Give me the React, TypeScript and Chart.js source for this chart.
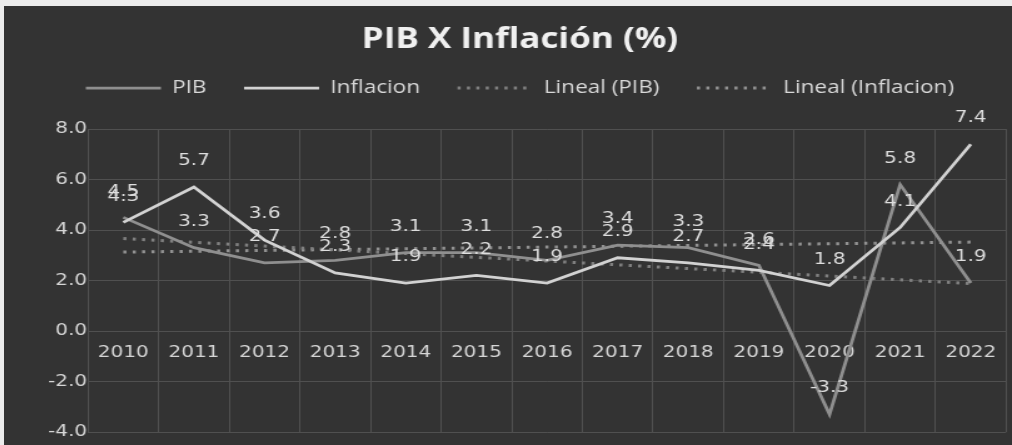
import React, { useEffect, useRef } from 'react';
import { Chart, registerables } from 'chart.js';

Chart.register(...registerables);

// ---- data ----
const years = ['2010', '2011', '2012', '2013', '2014', '2015', '2016', '2017', '2018', '2019', '2020', '2021', '2022'];
const pibValues = [4.5, 3.3, 2.7, 2.8, 3.1, 3.1, 2.8, 3.4, 3.3, 2.6, -3.3, 5.8, 1.9];
const inflacionValues = [4.3, 5.7, 3.6, 2.3, 1.9, 2.2, 1.9, 2.9, 2.7, 2.4, 1.8, 4.1, 7.4];
const seriesNames = ['PIB', 'Inflacion', 'Lineal (PIB)', 'Lineal (Inflacion)'];
const chartTitle = 'PIB X Inflación (%)';
const yMin = -4;
const yMax = 8;
const yStep = 2;

// least-squares linear trend of a series (Excel "Lineal" trendline)
function linearTrend(values: number[]): number[] {
  const n = values.length;
  const mx = (n - 1) / 2;
  const my = values.reduce((a, b) => a + b, 0) / n;
  let sxy = 0;
  let sxx = 0;
  values.forEach((v, i) => {
    sxy += (i - mx) * (v - my);
    sxx += (i - mx) * (i - mx);
  });
  const slope = sxy / sxx;
  return values.map((_, i) => my + slope * (i - mx));
}

// ---- layout (logical canvas is stretched horizontally like the reference) ----
const STRETCH = 1.25;
const LOGICAL_W = 806;
const LOGICAL_H = 439;

const dataLabelPlugin = {
  id: 'dataLabels',
  afterDatasetsDraw(chart: any) {
    const ctx = chart.ctx;
    ctx.save();
    ctx.font = '16px "DejaVu Sans"';
    ctx.fillStyle = '#dedede';
    ctx.textAlign = 'center';
    ctx.textBaseline = 'middle';
    [1, 0].forEach((di) => {
      const meta = chart.getDatasetMeta(di);
      const ds = chart.data.datasets[di];
      meta.data.forEach((pt: any, i: number) => {
        const v = ds.data[i] as number;
        ctx.fillText(v.toFixed(1), pt.x, pt.y - 26);
      });
    });
    ctx.restore();
  },
};

export default function App() {
  const canvasRef = useRef<HTMLCanvasElement | null>(null);

  useEffect(() => {
    if (!canvasRef.current) return;
    const tickFont = { family: 'DejaVu Sans', size: 16 };
    const chart = new Chart(canvasRef.current, {
      type: 'line',
      data: {
        labels: years,
        datasets: [
          {
            label: seriesNames[0],
            data: pibValues,
            borderColor: '#8f8f8f',
            backgroundColor: '#8f8f8f',
            borderWidth: 2.75,
            pointRadius: 0,
            tension: 0,
            order: 1,
          },
          {
            label: seriesNames[1],
            data: inflacionValues,
            borderColor: '#d2d2d2',
            backgroundColor: '#d2d2d2',
            borderWidth: 2.75,
            pointRadius: 0,
            tension: 0,
            order: 0,
          },
          {
            label: seriesNames[2],
            data: linearTrend(pibValues),
            borderColor: '#808080',
            backgroundColor: '#808080',
            borderWidth: 3,
            borderDash: [2.5, 5],
            pointRadius: 0,
            tension: 0,
            order: 2,
          },
          {
            label: seriesNames[3],
            data: linearTrend(inflacionValues),
            borderColor: '#929292',
            backgroundColor: '#929292',
            borderWidth: 3,
            borderDash: [2.5, 5],
            pointRadius: 0,
            tension: 0,
            order: 3,
          },
        ],
      },
      options: {
        responsive: false,
        animation: false,
        devicePixelRatio: 1,
        layout: { padding: { left: 19.2, right: 0, top: 0, bottom: 13 } },
        plugins: {
          title: {
            display: true,
            text: chartTitle,
            color: '#f0f0f0',
            font: { family: 'Open Sans', size: 28, weight: 'bold', lineHeight: 0.4 },
            padding: { top: 28.4, bottom: 3.4 },
          },
          legend: {
            display: true,
            position: 'top',
            labels: {
              color: '#d8d8d8',
              font: { family: 'Open Sans', size: 18 },
              usePointStyle: true,
              pointStyle: 'line',
              pointStyleWidth: 60,
              padding: 30,
              sort: (a: any, b: any) => a.datasetIndex - b.datasetIndex,
              generateLabels: (c: any) => {
                const items = Chart.defaults.plugins.legend.labels.generateLabels(c);
                return items.map((it: any) => {
                  const ds: any = c.data.datasets[it.datasetIndex];
                  return {
                    ...it,
                    lineDash: ds.borderDash || [],
                    lineWidth: ds.borderWidth,
                    strokeStyle: ds.borderColor,
                  };
                });
              },
            },
          },
          tooltip: { enabled: false },
        },
        scales: {
          x: {
            type: 'category',
            position: { y: 0 },
            offset: true,
            grid: { offset: true, color: '#505050', lineWidth: 1, drawTicks: false },
            border: { display: false },
            ticks: {
              color: '#d6d6d6',
              font: tickFont,
              padding: 12.4,
              maxRotation: 0,
              autoSkip: false,
            },
          },
          x2: {
            type: 'category',
            position: 'top',
            grid: { display: false, drawTicks: false },
            border: { display: false },
            ticks: { display: false },
            afterFit: (s: any) => {
              s.height = 22;
            },
          },
          y: {
            min: yMin,
            max: yMax,
            grid: { color: '#505050', lineWidth: 1, drawTicks: false },
            border: { display: false },
            ticks: {
              stepSize: yStep,
              color: '#d6d6d6',
              font: tickFont,
              padding: 0.8,
              callback: (v: any) => Number(v).toFixed(1),
            },
            afterFit: (s: any) => {
              s.width = 48;
              s.paddingTop = 0;
              s.paddingBottom = 0;
            },
          },
        },
      },
      plugins: [dataLabelPlugin],
    });
    return () => chart.destroy();
  }, []);

  return (
    <div
      style={{
        position: 'absolute',
        left: 0,
        top: 0,
        width: 1012,
        height: 445,
        background: '#ececec',
        overflow: 'hidden',
      }}
    >
      <canvas
        ref={canvasRef}
        width={LOGICAL_W}
        height={LOGICAL_H}
        style={{
          position: 'absolute',
          left: 4,
          top: 6,
          width: LOGICAL_W * STRETCH,
          height: LOGICAL_H,
          background: '#333333',
        }}
      />
    </div>
  );
}
